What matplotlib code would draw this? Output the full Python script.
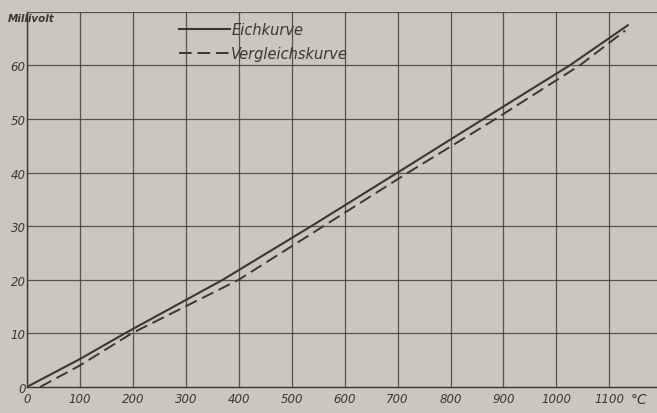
import matplotlib
matplotlib.use("Agg")
from matplotlib import pyplot as plt

# Eichkurve (solid) - temperature in degC, thermo-voltage in mV
eich_temp = [0, 100, 185, 370, 537, 700, 862, 1025, 1135]
eich_mv = [0, 5.2, 10, 20, 30, 40, 50, 60, 67.5]

# Vergleichskurve (dashed)
vergl_temp = [25, 100, 198, 400, 560, 720, 885, 1044, 1130]
vergl_mv = [0, 4.0, 10, 20, 30, 40, 50, 60, 66.5]

x_ticks = [0, 100, 200, 300, 400, 500, 600, 700, 800, 900, 1000, 1100]
y_ticks = [0, 10, 20, 30, 40, 50, 60]

paper = "#cac8bd"
ink = "#3b3731"


def draw_chart():
    plt.rcParams["font.family"] = ["DejaVu Sans"]
    fig = plt.figure(figsize=(6.57, 4.14), dpi=100, facecolor=paper)
    ax = fig.add_axes([0.041, 0.063, 0.959, 0.906], facecolor=paper)

    # Gitter
    for x in x_ticks:
        ax.axvline(x, color=ink, lw=0.9, alpha=0.8, zorder=1)
    for y in y_ticks[1:] + [70]:
        ax.axhline(y, color=ink, lw=0.9, alpha=0.8, zorder=1)

    # Kurven
    ax.plot(eich_temp, eich_mv, color=ink, lw=1.5, label="Eichkurve", zorder=3)
    ax.plot(vergl_temp, vergl_mv, color=ink, lw=1.4, ls=(0, (6.5, 3)),
            label="Vergleichskurve", zorder=3)

    ax.set_xlim(0, 1190)
    ax.set_ylim(0, 70)
    for s in ["top", "right"]:
        ax.spines[s].set_visible(False)
    for s in ["left", "bottom"]:
        ax.spines[s].set_color(ink)
        ax.spines[s].set_linewidth(1.0)

    ax.set_xticks(x_ticks)
    ax.set_yticks(y_ticks)
    ax.set_xticklabels([str(v) for v in x_ticks])
    ax.set_yticklabels([str(v) for v in y_ticks])
    ax.tick_params(length=0, colors=ink, labelsize=8.5, pad=4)
    for lab in ax.get_xticklabels() + ax.get_yticklabels():
        lab.set_style("italic")
    ax.tick_params(axis="y", pad=1)

    fig.text(0.012, 0.955, "Millivolt", fontsize=7.5, style="italic",
             color=ink, weight="bold", va="center")
    fig.text(0.973, 0.033, "°C", fontsize=10, style="italic", color=ink,
             va="center", ha="center")

    leg = ax.legend(loc="upper left", bbox_to_anchor=(0.22, 1.007),
                    frameon=False, handlelength=3.5, handletextpad=0.1,
                    labelspacing=0.6, prop={"style": "italic", "size": 10.5})
    for t in leg.get_texts():
        t.set_color(ink)

    fig.savefig("out.png", dpi=100, facecolor=paper)


def main():
    draw_chart()


if __name__ == "__main__":
    main()
